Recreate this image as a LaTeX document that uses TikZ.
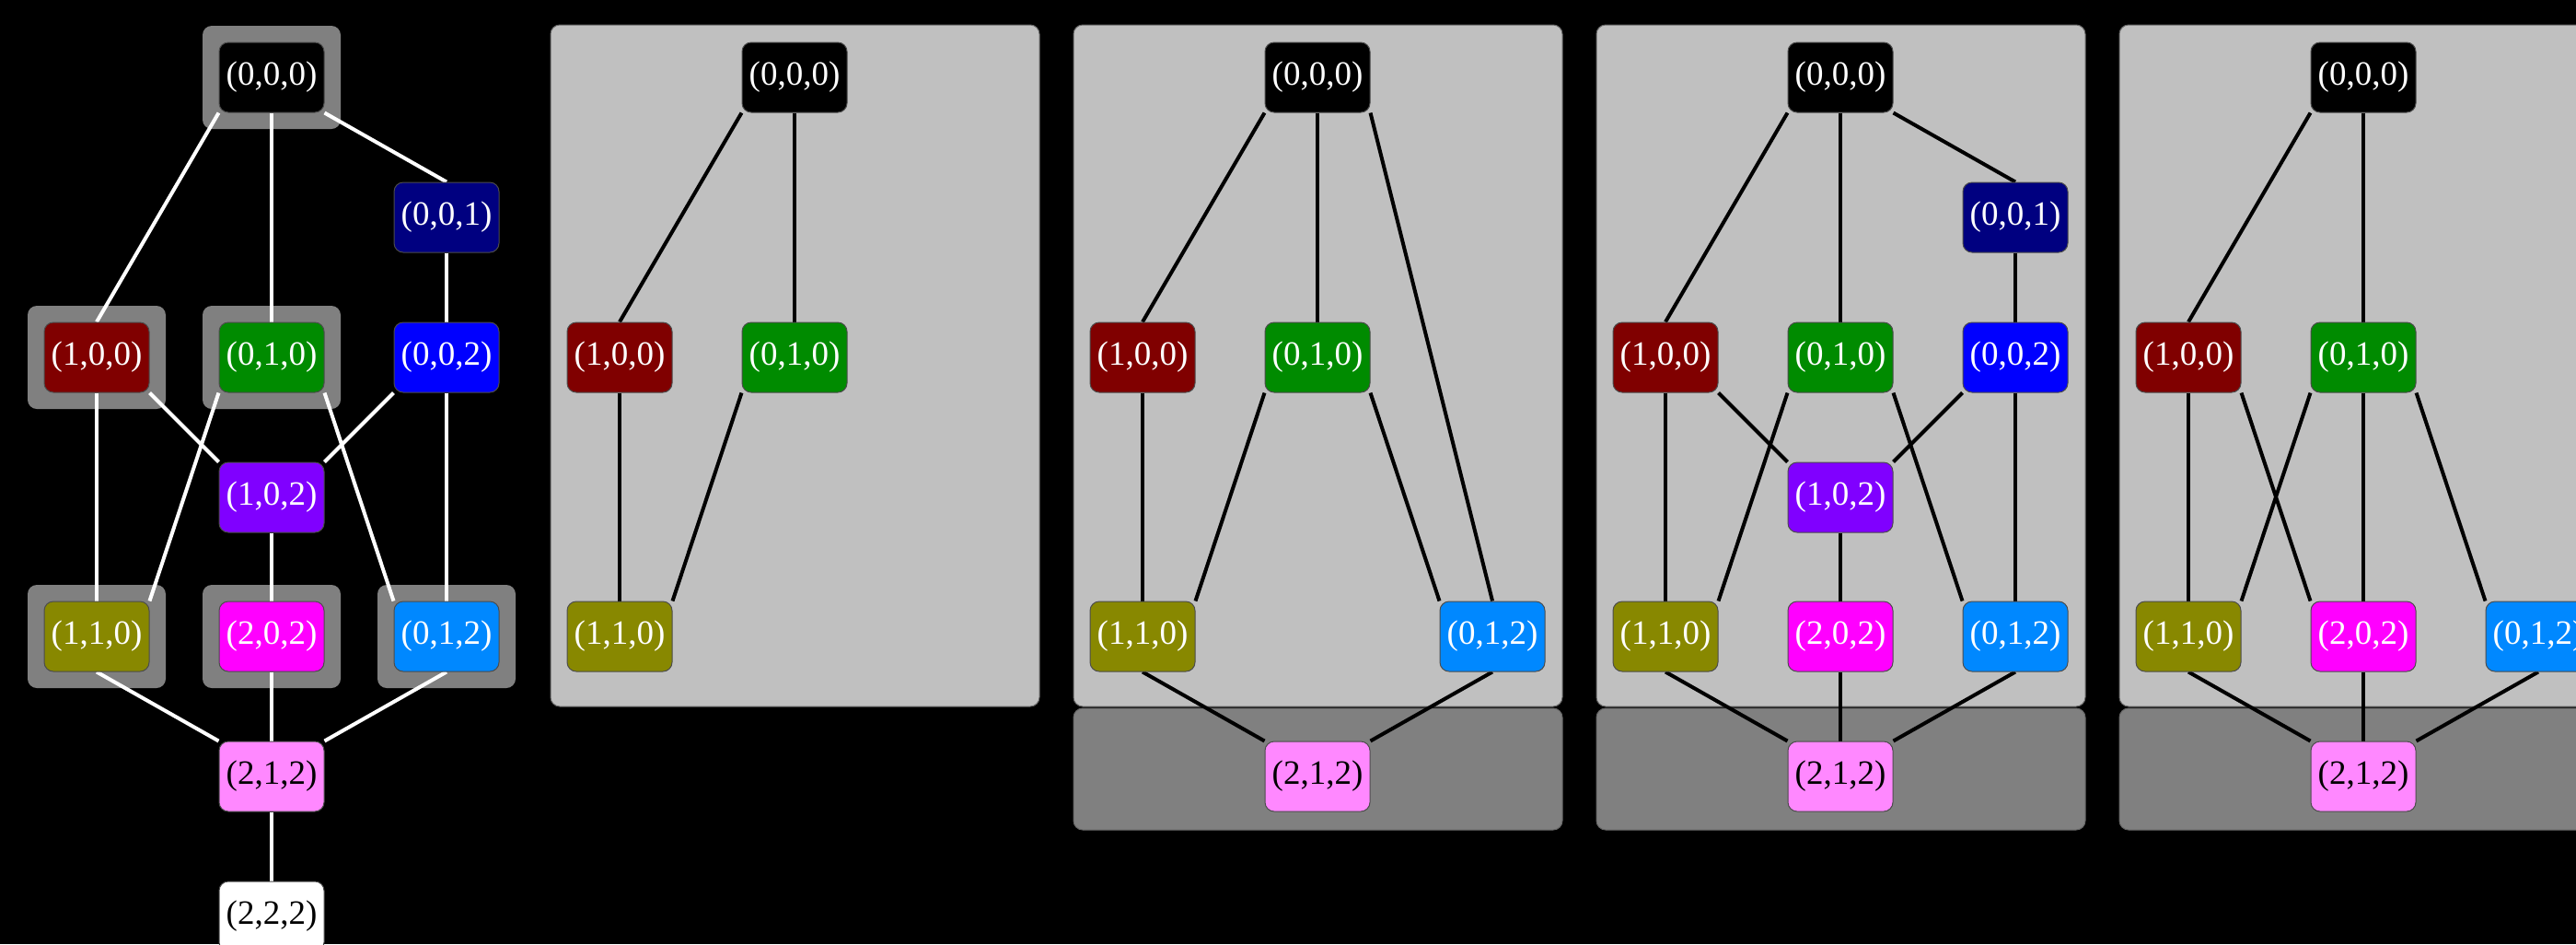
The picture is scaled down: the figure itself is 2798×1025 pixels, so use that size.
\documentclass[tikz,border=0pt]{standalone}
\usepackage{fontspec}
\setmainfont{Liberation Serif}
\pgfdeclarelayer{bottom}
\pgfdeclarelayer{panels}
\pgfdeclarelayer{links}
\pgfsetlayers{bottom,panels,links,main}
\definecolor{c000}{HTML}{000000}
\definecolor{c001}{HTML}{000080}
\definecolor{c002}{HTML}{0000FF}
\definecolor{c100}{HTML}{800000}
\definecolor{c010}{HTML}{008B00}
\definecolor{c102}{HTML}{8000FF}
\definecolor{c110}{HTML}{888800}
\definecolor{c202}{HTML}{FF00FF}
\definecolor{c012}{HTML}{0088FF}
\definecolor{c212}{HTML}{FF88FF}
\definecolor{c222}{HTML}{FFFFFF}
\definecolor{panellight}{HTML}{C0C0C0}
\definecolor{paneldark}{HTML}{808080}
\definecolor{halogray}{HTML}{808080}
\begin{document}
\begin{tikzpicture}[x=0.5pt,y=-0.5pt,
  vert/.style={rounded corners=5pt, minimum width=57pt, minimum height=38pt,
    inner sep=0pt, draw=black!70, line width=0.5pt, text=white,
    font=\fontsize{18.5}{20}\selectfont},
  darktext/.style={text=black},
  halo/.style={fill=halogray, rounded corners=5pt, minimum width=75pt,
    minimum height=56pt, inner sep=0pt},
  panelbox/.style={fill=panellight, draw=black!60, line width=0.5pt, rounded corners=5pt},
  lowerbox/.style={fill=paneldark, draw=black!60, line width=0.5pt, rounded corners=5pt},
  wedge/.style={draw=white, line width=2pt},
  bedge/.style={draw=black, line width=2pt}]

\begin{pgfonlayer}{bottom}
  \fill[black] (0,0) rectangle (2798,1025);
\end{pgfonlayer}
\useasboundingbox (0,0) rectangle (2798,1025);

% ---------- panel backgrounds ----------
\begin{pgfonlayer}{panels}
  \draw[panelbox] (598,27) rectangle (1129,767);
  \draw[panelbox] (1166,27) rectangle (1697,767);
  \draw[lowerbox] (1166,769) rectangle (1697,901);
  \draw[panelbox] (1734,27) rectangle (2265,767);
  \draw[lowerbox] (1734,769) rectangle (2265,901);
  \draw[panelbox] (2302,27) rectangle (2833,767);
  \draw[lowerbox] (2302,769) rectangle (2833,901);
  % halos in panel 1
  \node[halo] (h000) at (295,84) {};
  \node[halo] (h100) at (105,388) {};
  \node[halo] (h010) at (295,388) {};
  \node[halo] (h110) at (105,691) {};
  \node[halo] (h202) at (295,691) {};
  \node[halo] (h012) at (485,691) {};
\end{pgfonlayer}

% ---------- panel 1 ----------
\node[vert, fill=c000] (a000) at (295,84) {(0,0,0)};
\node[vert, fill=c001] (a001) at (485,236) {(0,0,1)};
\node[vert, fill=c100] (a100) at (105,388) {(1,0,0)};
\node[vert, fill=c010] (a010) at (295,388) {(0,1,0)};
\node[vert, fill=c002] (a002) at (485,388) {(0,0,2)};
\node[vert, fill=c102] (a102) at (295,540) {(1,0,2)};
\node[vert, fill=c110] (a110) at (105,691) {(1,1,0)};
\node[vert, fill=c202] (a202) at (295,691) {(2,0,2)};
\node[vert, fill=c012] (a012) at (485,691) {(0,1,2)};
\node[vert, fill=c212, darktext] (a212) at (295,843) {(2,1,2)};
\node[vert, fill=c222, darktext] (a222) at (295,995) {(2,2,2)};

% ---------- panel 2 ----------
\node[vert, fill=c000] (b000) at (863,84) {(0,0,0)};
\node[vert, fill=c100] (b100) at (673,388) {(1,0,0)};
\node[vert, fill=c010] (b010) at (863,388) {(0,1,0)};
\node[vert, fill=c110] (b110) at (673,691) {(1,1,0)};

% ---------- panel 3 ----------
\node[vert, fill=c000] (c000) at (1431,84) {(0,0,0)};
\node[vert, fill=c100] (c100) at (1241,388) {(1,0,0)};
\node[vert, fill=c010] (c010) at (1431,388) {(0,1,0)};
\node[vert, fill=c110] (c110) at (1241,691) {(1,1,0)};
\node[vert, fill=c012] (c012) at (1621,691) {(0,1,2)};
\node[vert, fill=c212, darktext] (c212) at (1431,843) {(2,1,2)};

% ---------- panel 4 ----------
\node[vert, fill=c000] (d000) at (1999,84) {(0,0,0)};
\node[vert, fill=c001] (d001) at (2189,236) {(0,0,1)};
\node[vert, fill=c100] (d100) at (1809,388) {(1,0,0)};
\node[vert, fill=c010] (d010) at (1999,388) {(0,1,0)};
\node[vert, fill=c002] (d002) at (2189,388) {(0,0,2)};
\node[vert, fill=c102] (d102) at (1999,540) {(1,0,2)};
\node[vert, fill=c110] (d110) at (1809,691) {(1,1,0)};
\node[vert, fill=c202] (d202) at (1999,691) {(2,0,2)};
\node[vert, fill=c012] (d012) at (2189,691) {(0,1,2)};
\node[vert, fill=c212, darktext] (d212) at (1999,843) {(2,1,2)};

% ---------- panel 5 ----------
\node[vert, fill=c000] (e000) at (2567,84) {(0,0,0)};
\node[vert, fill=c100] (e100) at (2377,388) {(1,0,0)};
\node[vert, fill=c010] (e010) at (2567,388) {(0,1,0)};
\node[vert, fill=c110] (e110) at (2377,691) {(1,1,0)};
\node[vert, fill=c202] (e202) at (2567,691) {(2,0,2)};
\node[vert, fill=c012] (e012) at (2757,691) {(0,1,2)};
\node[vert, fill=c212, darktext] (e212) at (2567,843) {(2,1,2)};

% ---------- connectors ----------
\begin{pgfonlayer}{links}
  % panel 1
  \draw[wedge] (a000.south west) -- (a100.north);
  \draw[wedge] (a000.south) -- (a010.north);
  \draw[wedge] (a000.south east) -- (a001.north);
  \draw[wedge] (a001.south) -- (a002.north);
  \draw[wedge] (a100.south) -- (a110.north);
  \draw[wedge] (a100.south east) -- (a102.north west);
  \draw[wedge] (a010.south west) -- (a110.north east);
  \draw[wedge] (a010.south east) -- (a012.north west);
  \draw[wedge] (a002.south west) -- (a102.north east);
  \draw[wedge] (a002.south) -- (a012.north);
  \draw[wedge] (a102.south) -- (a202.north);
  \draw[wedge] (a110.south) -- (a212.north west);
  \draw[wedge] (a202.south) -- (a212.north);
  \draw[wedge] (a012.south) -- (a212.north east);
  \draw[wedge] (a212.south) -- (a222.north);
  % panel 2
  \draw[bedge] (b000.south west) -- (b100.north);
  \draw[bedge] (b000.south) -- (b010.north);
  \draw[bedge] (b100.south) -- (b110.north);
  \draw[bedge] (b010.south west) -- (b110.north east);
  % panel 3
  \draw[bedge] (c000.south west) -- (c100.north);
  \draw[bedge] (c000.south) -- (c010.north);
  \draw[bedge] (c000.south east) -- (c012.north);
  \draw[bedge] (c100.south) -- (c110.north);
  \draw[bedge] (c010.south west) -- (c110.north east);
  \draw[bedge] (c010.south east) -- (c012.north west);
  \draw[bedge] (c110.south) -- (c212.north west);
  \draw[bedge] (c012.south) -- (c212.north east);
  % panel 4
  \draw[bedge] (d000.south west) -- (d100.north);
  \draw[bedge] (d000.south) -- (d010.north);
  \draw[bedge] (d000.south east) -- (d001.north);
  \draw[bedge] (d001.south) -- (d002.north);
  \draw[bedge] (d100.south) -- (d110.north);
  \draw[bedge] (d100.south east) -- (d102.north west);
  \draw[bedge] (d010.south west) -- (d110.north east);
  \draw[bedge] (d010.south east) -- (d012.north west);
  \draw[bedge] (d002.south west) -- (d102.north east);
  \draw[bedge] (d002.south) -- (d012.north);
  \draw[bedge] (d102.south) -- (d202.north);
  \draw[bedge] (d110.south) -- (d212.north west);
  \draw[bedge] (d202.south) -- (d212.north);
  \draw[bedge] (d012.south) -- (d212.north east);
  % panel 5
  \draw[bedge] (e000.south west) -- (e100.north);
  \draw[bedge] (e000.south) -- (e010.north);
  \draw[bedge] (e100.south) -- (e110.north);
  \draw[bedge] (e100.south east) -- (e202.north west);
  \draw[bedge] (e010.south west) -- (e110.north east);
  \draw[bedge] (e010.south) -- (e202.north);
  \draw[bedge] (e010.south east) -- (e012.north west);
  \draw[bedge] (e110.south) -- (e212.north west);
  \draw[bedge] (e202.south) -- (e212.north);
  \draw[bedge] (e012.south) -- (e212.north east);
\end{pgfonlayer}
\end{tikzpicture}
\end{document}
